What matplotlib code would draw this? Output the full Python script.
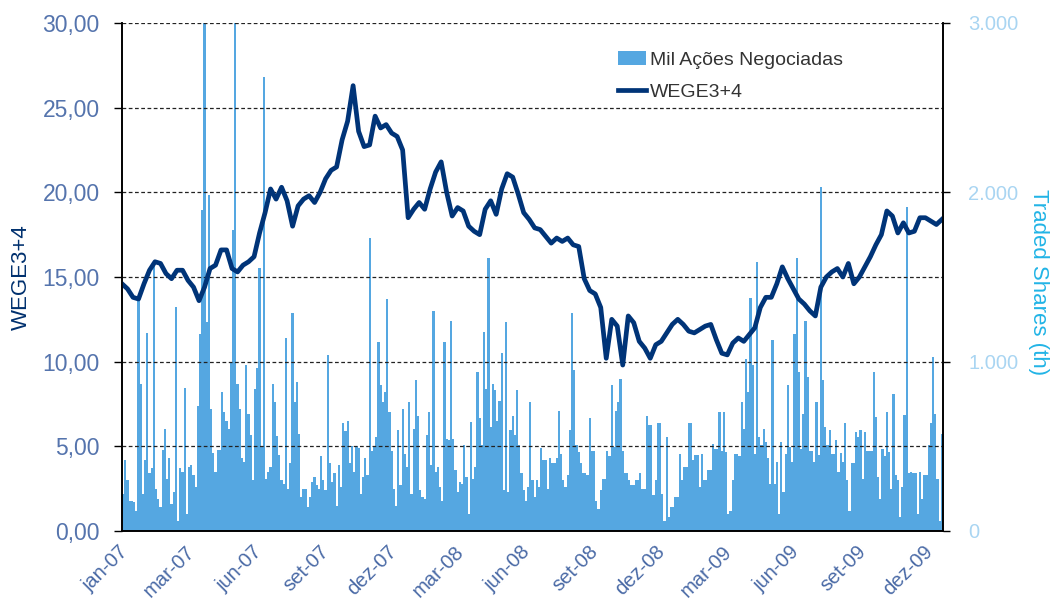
import matplotlib
matplotlib.use("Agg")
import matplotlib.pyplot as plt
import matplotlib.transforms as mtransforms
import numpy as np
from matplotlib.ticker import FuncFormatter, FixedLocator
from matplotlib.lines import Line2D
from matplotlib.patches import Patch

plt.rcParams['font.family'] = ['Liberation Sans', 'DejaVu Sans']

# eixo de categorias: dias de pregao, rotulo a cada 61 dias
n_days = 746
tick_step = 61
tick_labels = ['jan-07', 'mar-07', 'jun-07', 'set-07', 'dez-07', 'mar-08', 'jun-08',
               'set-08', 'dez-08', 'mar-09', 'jun-09', 'set-09', 'dez-09']

# cotacao WEGE3+4 (semanal, a cada 5 pregoes)
price_step = 5
price = [14.6, 14.3, 13.8, 13.7, 14.6, 15.4, 15.9, 15.8, 15.2, 14.9,
         15.4, 15.4, 14.8, 14.4, 13.6, 14.4, 15.5, 15.7, 16.6, 16.6,
         15.5, 15.3, 15.7, 15.9, 16.2, 17.6, 18.8, 20.2, 19.6, 20.3,
         19.5, 18.0, 19.2, 19.6, 19.8, 19.4, 20.0, 20.8, 21.3, 21.5,
         23.1, 24.2, 26.3, 23.6, 22.7, 22.8, 24.5, 23.8, 24.0, 23.5,
         23.3, 22.5, 18.5, 19.0, 19.4, 19.0, 20.2, 21.2, 21.8, 20.0,
         18.6, 19.1, 18.9, 18.0, 17.7, 17.5, 19.0, 19.5, 18.7, 20.2,
         21.1, 20.9, 19.9, 18.8, 18.4, 17.9, 17.8, 17.4, 17.0, 17.3,
         17.1, 17.3, 16.9, 16.8, 14.9, 14.2, 14.0, 13.2, 10.2, 12.5,
         12.1, 9.8, 12.7, 12.3, 11.2, 10.8, 10.2, 11.0, 11.2, 11.7,
         12.2, 12.5, 12.2, 11.8, 11.7, 11.9, 12.1, 12.2, 11.3, 10.5,
         10.4, 11.1, 11.4, 11.2, 11.6, 12.0, 13.2, 13.8, 13.8, 14.6,
         15.6, 14.9, 14.3, 13.7, 13.4, 13.0, 12.7, 14.4, 15.0, 15.3,
         15.5, 15.0, 15.8, 14.6, 15.0, 15.6, 16.2, 16.9, 17.5, 18.9,
         18.6, 17.6, 18.2, 17.6, 17.7, 18.5, 18.5, 18.3, 18.1, 18.4]

# mil acoes negociadas (a cada 2 pregoes)
vol_step = 2
volume = [220, 420, 300, 180, 180, 170, 120, 1370, 868, 220,
          420, 1170, 340, 370, 1590, 250, 190, 140, 480, 600,
          310, 430, 160, 230, 1323, 60, 370, 350, 845, 100,
          380, 390, 330, 260, 740, 1163, 1895, 3050, 1234, 1985,
          720, 460, 350, 480, 480, 820, 700, 650, 600, 992,
          1778, 3050, 870, 720, 430, 410, 980, 690, 565, 300,
          840, 960, 1553, 500, 2680, 310, 350, 380, 868, 760,
          560, 450, 300, 280, 1140, 250, 400, 1288, 760, 880,
          575, 200, 250, 250, 140, 200, 290, 320, 270, 250,
          440, 300, 240, 1040, 400, 290, 340, 150, 390, 260,
          640, 590, 650, 400, 500, 350, 500, 490, 220, 320,
          430, 330, 1730, 470, 500, 555, 1116, 860, 760, 820,
          1370, 700, 470, 250, 150, 595, 270, 720, 455, 380,
          760, 220, 600, 890, 680, 240, 200, 190, 565, 700,
          390, 1300, 350, 380, 260, 180, 1115, 545, 535, 1240,
          545, 360, 230, 290, 280, 505, 320, 100, 645, 310,
          380, 940, 665, 505, 1175, 840, 1613, 615, 870, 830,
          650, 770, 1050, 240, 1235, 230, 595, 680, 565, 830,
          505, 340, 240, 180, 260, 760, 300, 200, 300, 260,
          490, 420, 420, 250, 430, 400, 400, 430, 710, 455,
          300, 260, 330, 595, 1290, 950, 505, 465, 400, 340,
          340, 330, 670, 470, 470, 180, 130, 240, 310, 310,
          475, 440, 860, 495, 710, 760, 900, 475, 340, 340,
          300, 270, 270, 300, 300, 340, 250, 250, 680, 625,
          625, 210, 300, 635, 635, 220, 60, 555, 80, 140,
          140, 200, 200, 455, 300, 380, 380, 635, 635, 420,
          450, 450, 260, 455, 300, 300, 360, 360, 515, 485,
          485, 700, 475, 700, 465, 100, 120, 300, 455, 455,
          440, 760, 600, 1016, 820, 1376, 980, 455, 1590, 555,
          505, 605, 525, 430, 280, 1130, 280, 410, 100, 525,
          230, 455, 860, 495, 410, 1163, 1612, 940, 485, 690,
          1240, 910, 475, 475, 410, 760, 450, 2030, 890, 615,
          505, 595, 455, 455, 535, 350, 460, 410, 635, 300,
          120, 400, 400, 585, 555, 595, 310, 585, 470, 475,
          470, 940, 675, 320, 190, 485, 440, 705, 465, 250,
          810, 330, 300, 80, 260, 685, 1913, 340, 350, 340,
          340, 100, 350, 190, 330, 330, 505, 635, 1028, 690,
          310, 60, 573]

navy = '#003478'
bar_blue = '#55a7e1'

fig = plt.figure(figsize=(10.5, 6.06), dpi=100)
ax = fig.add_axes([122/1050, 1 - 531/606, 821/1050, 508/606])
axp = ax.twinx()   # cotacao por cima das barras

# barras de volume (eixo direito)
vx = np.arange(len(volume)) * vol_step
ax.bar(vx, volume, width=vol_step, align='edge', color=bar_blue, linewidth=0)
ax.set_ylim(0, 3000)
ax.set_xlim(0, n_days)
ax.yaxis.tick_right()
ax.yaxis.set_major_locator(FixedLocator([0, 1000, 2000, 3000]))
ax.yaxis.set_major_formatter(FuncFormatter(lambda v, p: '0' if v == 0 else f'{int(v):,}'.replace(',', '.')))
ax.tick_params(axis='y', colors='black', labelcolor='#a9d5f2', labelsize=14.5, length=5, width=1, pad=13)
fig.text(1038/1050, 1 - 282/606, 'Traded Shares (th)', color='#22b4e6', fontsize=16,
         rotation=270, ha='center', va='center')

# cotacao (eixo esquerdo)
axp.yaxis.tick_left()
axp.yaxis.set_label_position('left')
px = np.arange(len(price)) * price_step
axp.plot(px, price, color=navy, lw=3.4, solid_joinstyle='round')
axp.set_ylim(0, 30)
axp.set_xlim(0, n_days)
axp.set_yticks(np.arange(0, 31, 5))
axp.yaxis.set_major_formatter(FuncFormatter(lambda v, p: f'{v:.2f}'.replace('.', ',')))
axp.tick_params(axis='y', labelcolor='#5574ad', labelsize=16.5, length=6, width=1, pad=10)
axp.set_ylabel('WEGE3+4', color='#00306e', fontsize=16, labelpad=8)
axp.set_axisbelow(True)
axp.grid(axis='y', color='#222222', linestyle=(0, (3, 2)), linewidth=0.9)

ax.set_xticks(np.arange(len(tick_labels)) * tick_step)
ax.set_xticklabels(tick_labels, rotation=45, ha='right', va='top', rotation_mode='anchor',
                   fontsize=14.5, color='#4a6aa6')
ax.tick_params(axis='x', length=0, pad=8)
shift = mtransforms.ScaledTranslation(-4/100, 0, fig.dpi_scale_trans)
for lbl in ax.get_xticklabels():
    lbl.set_transform(lbl.get_transform() + shift)

for a in (ax, axp):
    a.spines['top'].set_visible(False)
    for s in ('left', 'right', 'bottom'):
        a.spines[s].set_color('black')
        a.spines[s].set_linewidth(1.2)

handles = [Patch(facecolor=bar_blue, edgecolor='none', label='Mil Ações Negociadas'),
           Line2D([0], [0], color=navy, lw=3.4, label='WEGE3+4')]
axp.legend(handles=handles, loc='upper left', bbox_to_anchor=(600/1050, 1 - 34/606),
           bbox_transform=fig.transFigure, frameon=False, fontsize=14, handlelength=1.45,
           handletextpad=0.2, labelspacing=0.75, labelcolor='#333333')

fig.savefig('out.png', dpi=100)
